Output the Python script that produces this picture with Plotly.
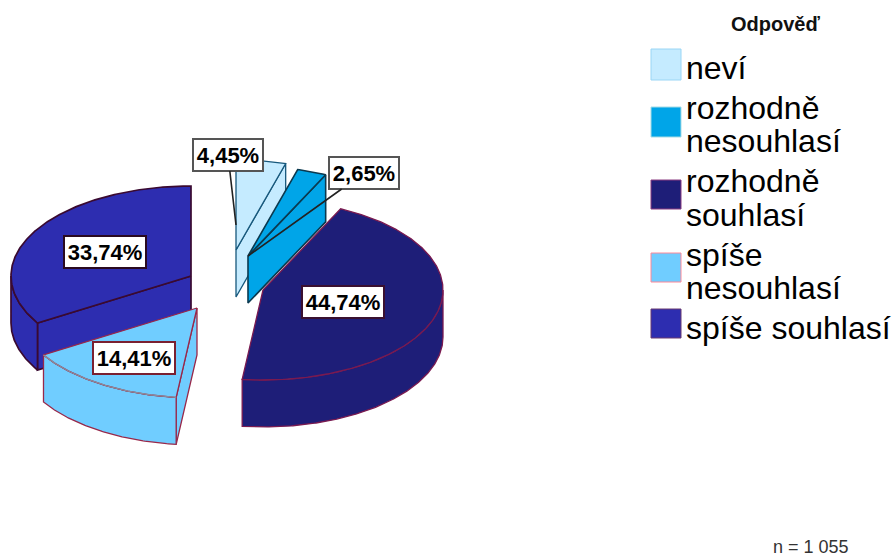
import numpy as np
import plotly.graph_objects as go

# --- data ---
categories = ["neví", "rozhodně<br>nesouhlasí", "rozhodně<br>souhlasí", "spíše<br>nesouhlasí", "spíše souhlasí"]
values = [4.45, 2.65, 44.74, 14.41, 33.74]
legend_title = "Odpověď"
note = "n = 1 055"

# --- styles ---
fills = ["#c5ebff", "#00a5e8", "#1e1e78", "#70cdff", "#2d2db0"]
edges = ["#17587c", "#0b3a50", "#7a1a50", "#98284a", "#3a0a30"]
edge_widths = [1.3, 1.6, 1.3, 1.3, 1.7]
swatch_edges = ["#9ad6f5", "#a5dbe5", "#8a3a80", "#ff8898", "#6a3a70"]
label_edges = ["#555555", "#555555", "#3a1030", "#7a2030", "#2a0a20"]

# --- geometry (pixel space of the hidden axes) ---
RX, RY, DEPTH = 180, 90, 47
apexes = [(236, 250), (248, 256), (263, 290), (197, 308), (191, 276)]
label_centers = [(228, 155), (364, 173), (343, 302), (134, 358), (105, 252)]
label_targets = [(236, 225), (248, 256), None, None, None]
draw_order = [4, 0, 1, 2, 3]
FONT = "Liberation Sans, Arial, sans-serif"

cum = np.concatenate([[0], np.cumsum(values)])
cum = cum / cum[-1] * 360


def rim(ax, ay, a0, a1, dz=0):
    t = np.radians(np.linspace(a0, a1, max(int(abs(a1 - a0)) * 2, 2)))
    return ax + RX * np.sin(t), ay - RY * np.cos(t) + dz


fig = go.Figure()


def poly(xs, ys, fill, edge, width=1.3):
    fig.add_trace(go.Scatter(x=list(xs) + [xs[0]], y=list(ys) + [ys[0]], mode="lines",
                             fill="toself", fillcolor=fill,
                             line=dict(color=edge, width=width),
                             hoverinfo="skip", showlegend=False))


for i in draw_order:
    ax, ay = apexes[i]
    a0, a1 = cum[i], cum[i + 1]
    lw = edge_widths[i]
    # radial cut faces turned to the viewer
    for a, visible in ((a0, np.sin(np.radians(a0)) < -1e-6), (a1, np.sin(np.radians(a1)) > 1e-6)):
        if visible:
            ex, ey = rim(ax, ay, a, a + 1)
            ex, ey = ex[0], ey[0]
            poly([ax, ex, ex, ax], [ay, ey, ey + DEPTH, ay + DEPTH], fills[i], edges[i], lw)
    # outer wall: front half of the rim only
    w0, w1 = max(a0, 90), min(a1, 270)
    if w1 > w0:
        tx, ty = rim(ax, ay, w0, w1)
        bx, by = rim(ax, ay, w0, w1, DEPTH)
        poly(np.r_[tx, bx[::-1]], np.r_[ty, by[::-1]], fills[i], edges[i], lw)
    # top face
    tx, ty = rim(ax, ay, a0, a1)
    poly(np.r_[ax, tx], np.r_[ay, ty], fills[i], edges[i], lw)
    if i == 3:  # the lighter slice has a pale inner arc on its top rim
        fig.add_trace(go.Scatter(x=tx, y=ty, mode="lines", line=dict(color="#8c8c9c", width=1.3),
                                 hoverinfo="skip", showlegend=False))

# value labels
for i, v in enumerate(values):
    cx, cy = label_centers[i]
    txt = f"{v:.2f}".replace(".", ",") + "%"
    w = 66 if v < 10 else 78
    kw = dict(showarrow=False, x=cx, y=cy)
    if label_targets[i]:
        tx, ty = label_targets[i]
        kw = dict(showarrow=True, x=tx, y=ty, ax=cx, ay=cy, axref="x", ayref="y",
                  arrowhead=0, arrowwidth=1.6, arrowcolor="#222222", standoff=0, startstandoff=0)
    fig.add_annotation(text=f"<b>{txt}</b>", xref="x", yref="y", width=w, height=28,
                       font=dict(family=FONT, size=22, color="#000000"), align="center", valign="middle",
                       bgcolor="#ffffff", bordercolor=label_edges[i], borderwidth=2, borderpad=1, **kw)

# legend
swatch_rows = [(49, 80), (107, 137), (180, 209), (253, 282), (309, 338)]
line_rows = [[68], [108, 141], [181, 215], [255, 288], [328]]
for i, cat in enumerate(categories):
    y0, y1 = swatch_rows[i]
    fig.add_shape(type="rect", xref="x", yref="y", x0=651, x1=681, y0=y0, y1=y1,
                  fillcolor=fills[i], line=dict(color=swatch_edges[i], width=1))
    for part, yy in zip(cat.split("<br>"), line_rows[i]):
        fig.add_annotation(text=part, x=684, y=yy, xref="x", yref="y", xanchor="left", yanchor="middle",
                           showarrow=False, font=dict(family=FONT, size=32, color="#000000"))

fig.add_annotation(text=f"<b>{legend_title}</b>", x=775, y=24, xref="x", yref="y", showarrow=False,
                   font=dict(family=FONT, size=20, color="#111111"))
fig.add_annotation(text=note, x=811, y=547, xref="x", yref="y", showarrow=False,
                   font=dict(family=FONT, size=18, color="#333333"))

fig.update_layout(width=895, height=560, margin=dict(l=0, r=0, t=0, b=0),
                  paper_bgcolor="#ffffff", plot_bgcolor="#ffffff", showlegend=False,
                  xaxis=dict(range=[0, 895], visible=False, fixedrange=True),
                  yaxis=dict(range=[560, 0], visible=False, fixedrange=True))
fig.write_html("out.html", config={"displayModeBar": False},
               post_script="document.body.style.margin='0';")
